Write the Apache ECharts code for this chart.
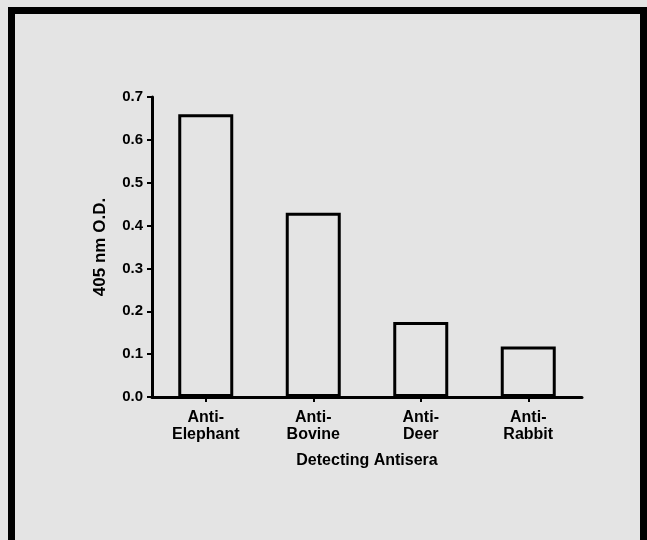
<!DOCTYPE html>
<html>
<head>
<meta charset="utf-8">
<script src="https://cdn.jsdelivr.net/npm/echarts@6/dist/echarts.min.js"></script>
<style>
  html, body { margin: 0; padding: 0; width: 647px; height: 540px; overflow: hidden; background: #e4e4e4; }
  #frame { position: absolute; left: 8px; top: 7px; width: 625px; height: 600px; border: 7px solid #000; border-bottom: none; box-sizing: content-box; }
  #chart { position: absolute; left: 0; top: 0; width: 647px; height: 540px; }
</style>
</head>
<body>
<div id="frame"></div>
<div id="chart"></div>
<script>
const categories = ['Anti-\nElephant', 'Anti-\nBovine', 'Anti-\nDeer', 'Anti-\nRabbit'];
const odValues = [0.66, 0.43, 0.175, 0.118];
const yTicks = ['0.0', '0.1', '0.2', '0.3', '0.4', '0.5', '0.6', '0.7'];
const xTitle = 'Detecting Antisera';
const yTitle = '405 nm O.D.';

const font = { fontFamily: 'Liberation Sans, Arial, Helvetica, sans-serif', fontWeight: 'bold', fontSize: 16, color: '#000' };

const chart = echarts.init(document.getElementById('chart'), null, { renderer: 'canvas' });
chart.setOption({
  backgroundColor: 'transparent',
  animation: false,
  grid: { left: 152, right: 65, top: 97, bottom: 143, containLabel: false },
  xAxis: {
    type: 'category',
    data: categories,
    axisLine: { lineStyle: { color: '#000', width: 3 } },
    axisTick: { show: true, alignWithLabel: true, length: 5, lineStyle: { color: '#000', width: 2 } },
    axisLabel: Object.assign({ margin: 12, lineHeight: 17, interval: 0 }, font),
    name: xTitle,
    nameLocation: 'middle',
    nameGap: 56,
    nameTextStyle: font
  },
  yAxis: {
    type: 'value',
    min: 0,
    max: 0.7,
    interval: 0.1,
    splitLine: { show: false },
    axisLine: { show: true, lineStyle: { color: '#000', width: 3 } },
    axisTick: { show: true, length: 5, lineStyle: { color: '#000', width: 2 } },
    axisLabel: Object.assign({ margin: 9, formatter: function (v) { return yTicks[Math.round(v * 10)]; } }, font, { fontSize: 15 }),
    name: yTitle,
    nameLocation: 'middle',
    nameRotate: 90,
    nameGap: 43,
    nameTextStyle: Object.assign({}, font, { fontSize: 17 })
  },
  series: [{
    type: 'bar',
    data: odValues,
    barWidth: 55,
    itemStyle: { color: 'rgba(0,0,0,0)', borderColor: '#000', borderWidth: 3 }
  }]
});
</script>
</body>
</html>
